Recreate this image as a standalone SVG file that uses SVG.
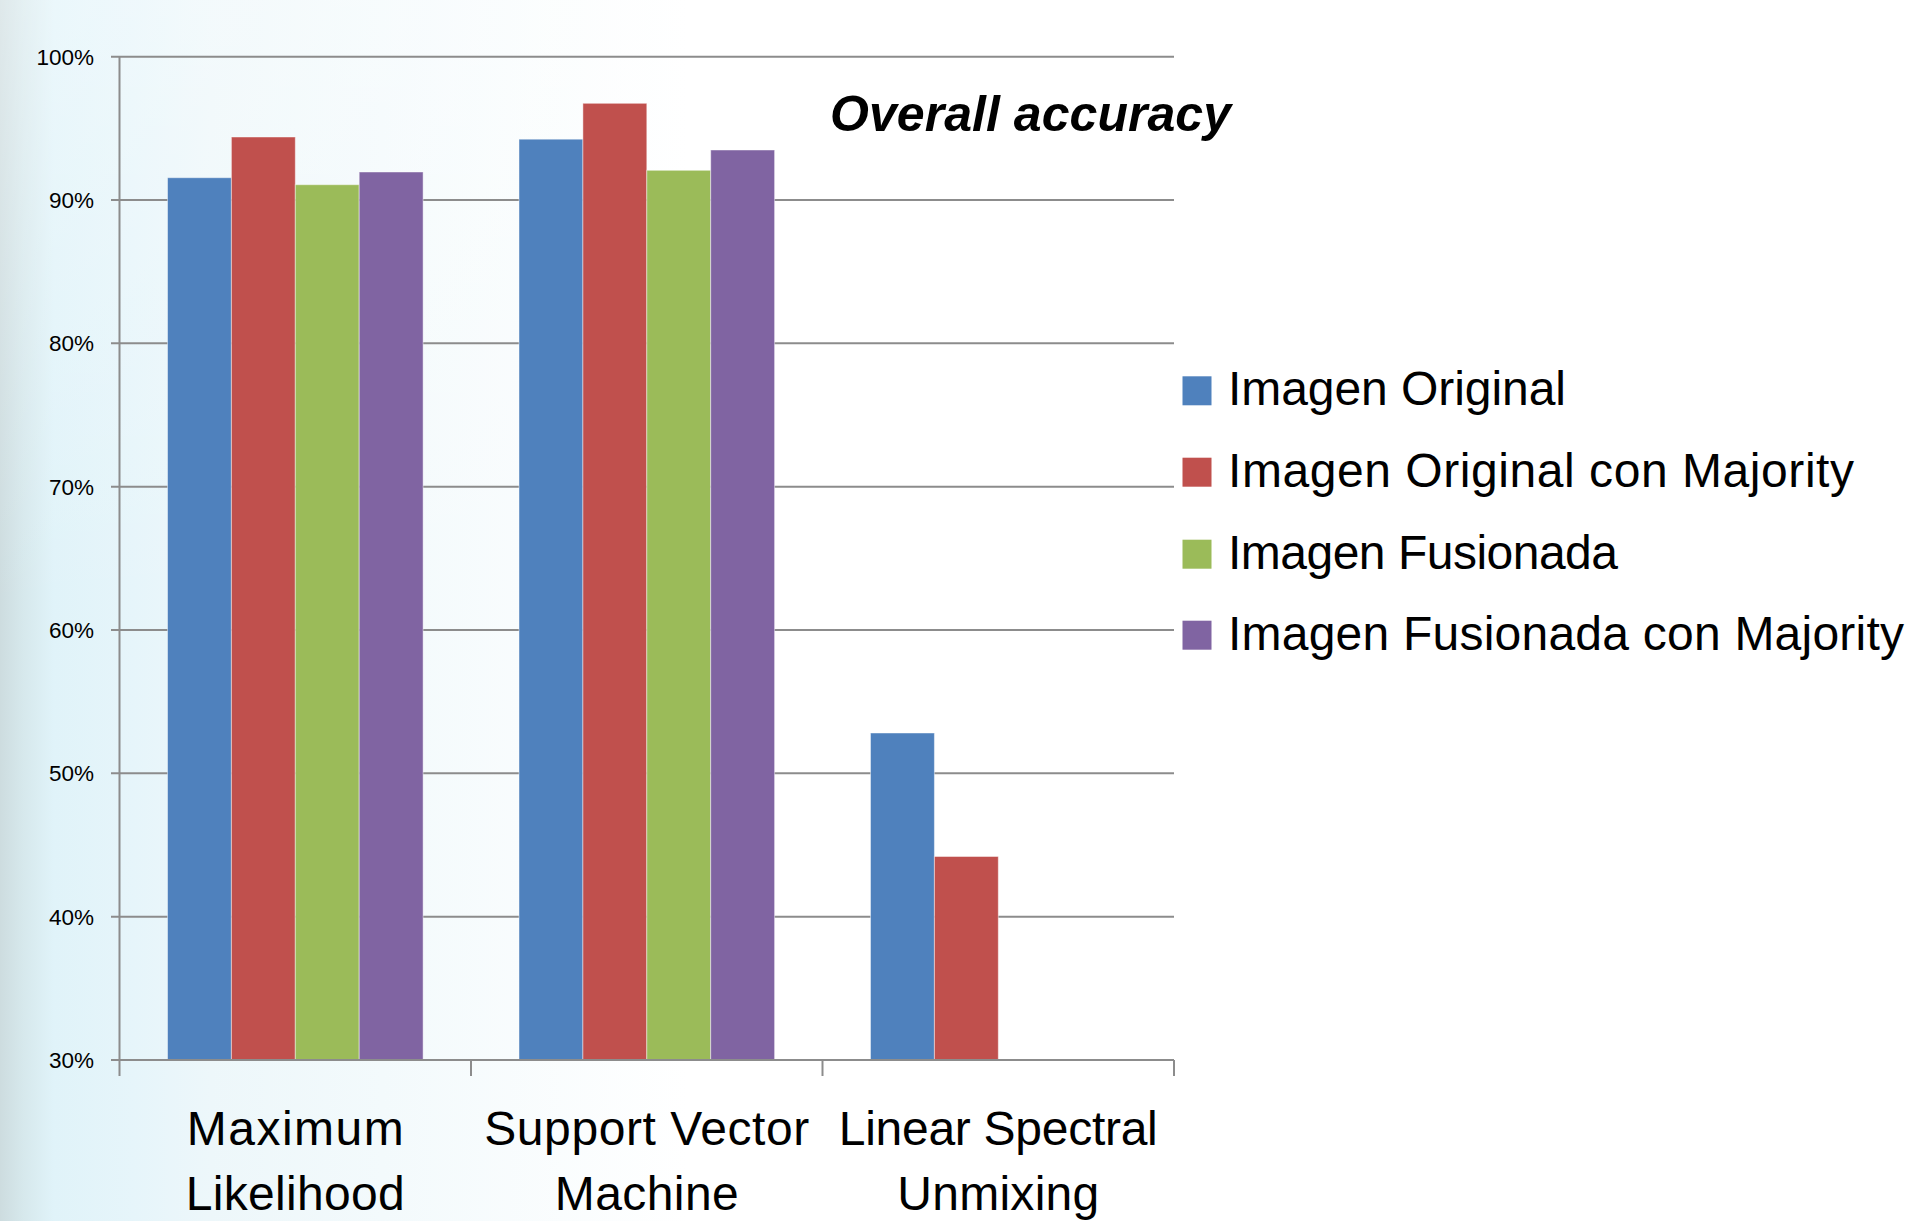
<svg xmlns="http://www.w3.org/2000/svg" width="1911" height="1221" viewBox="0 0 1911 1221">
<defs>
<linearGradient id="bg" x1="0" y1="0" x2="1911" y2="0" gradientUnits="userSpaceOnUse">
<stop offset="0" stop-color="#cddcdf"/>
<stop offset="0.012" stop-color="#d6e8ec"/>
<stop offset="0.028" stop-color="#e0f3f9"/>
<stop offset="0.07" stop-color="#e6f5fa"/>
<stop offset="0.11" stop-color="#edf7fa"/>
<stop offset="0.2" stop-color="#f3fafc"/>
<stop offset="0.36" stop-color="#ffffff"/>
<stop offset="1" stop-color="#ffffff"/>
</linearGradient>
<linearGradient id="fade" x1="0" y1="0" x2="0" y2="1221" gradientUnits="userSpaceOnUse">
<stop offset="0" stop-color="#ffffff" stop-opacity="0.35"/>
<stop offset="0.5" stop-color="#ffffff" stop-opacity="0"/>
<stop offset="1" stop-color="#ffffff" stop-opacity="0"/>
</linearGradient>
</defs>
<style>
.grid{stroke:#8c8c8c;stroke-width:2;fill:none}
.ylab{font-family:"Liberation Sans",Arial,sans-serif;font-size:22.5px;fill:#000;text-anchor:end}
.cat{font-family:"Liberation Sans",Arial,sans-serif;font-size:48px;fill:#000;text-anchor:middle}
.leg{font-family:"Liberation Sans",Arial,sans-serif;font-size:48px;fill:#000}
.title{font-family:"Liberation Sans",Arial,sans-serif;font-size:50px;font-weight:bold;font-style:italic;fill:#000}
.bar{stroke:#ffffff;stroke-opacity:0.45;stroke-width:1}
.s1{fill:#4f81bd}.s2{fill:#c0504d}.s3{fill:#9bbb59}.s4{fill:#8064a2}
</style>
<rect x="0" y="0" width="1911" height="1221" fill="url(#bg)"/>
<rect x="0" y="0" width="1911" height="1221" fill="url(#fade)"/>

<g id="gridlines">
<line class="grid" x1="111" y1="56.7" x2="1174" y2="56.7"/>
<line class="grid" x1="111" y1="200" x2="1174" y2="200"/>
<line class="grid" x1="111" y1="343.3" x2="1174" y2="343.3"/>
<line class="grid" x1="111" y1="486.7" x2="1174" y2="486.7"/>
<line class="grid" x1="111" y1="630" x2="1174" y2="630"/>
<line class="grid" x1="111" y1="773.3" x2="1174" y2="773.3"/>
<line class="grid" x1="111" y1="916.7" x2="1174" y2="916.7"/>
</g>

<g id="y-labels">
<text class="ylab" x="94" y="64.7">100%</text>
<text class="ylab" x="94" y="208">90%</text>
<text class="ylab" x="94" y="351.3">80%</text>
<text class="ylab" x="94" y="494.7">70%</text>
<text class="ylab" x="94" y="638">60%</text>
<text class="ylab" x="94" y="781.3">50%</text>
<text class="ylab" x="94" y="924.7">40%</text>
<text class="ylab" x="94" y="1068">30%</text>
</g>

<g id="title">
<text class="title" x="830" y="131" textLength="401">Overall accuracy</text>
</g>

<g id="maximum-likelihood">
<rect class="bar s1" x="167.5" y="177.7" width="63.9" height="882.3"/>
<rect class="bar s2" x="231.4" y="137" width="63.9" height="923"/>
<rect class="bar s3" x="295.3" y="184.7" width="63.9" height="875.3"/>
<rect class="bar s4" x="359.2" y="172" width="63.9" height="888"/>
<text class="cat" x="295.25" y="1145" textLength="217">Maximum</text>
<text class="cat" x="295.25" y="1210" textLength="219">Likelihood</text>
</g>

<g id="support-vector-machine">
<rect class="bar s1" x="519" y="139.2" width="63.9" height="920.8"/>
<rect class="bar s2" x="582.9" y="103.3" width="63.9" height="956.7"/>
<rect class="bar s3" x="646.8" y="170.3" width="63.9" height="889.7"/>
<rect class="bar s4" x="710.7" y="150" width="63.9" height="910"/>
<text class="cat" x="646.75" y="1145" textLength="325">Support Vector</text>
<text class="cat" x="646.75" y="1210" textLength="184">Machine</text>
</g>

<g id="linear-spectral-unmixing">
<rect class="bar s1" x="870.5" y="733" width="63.9" height="327"/>
<rect class="bar s2" x="934.4" y="856.5" width="63.9" height="203.5"/>
<text class="cat" x="998.25" y="1145" textLength="319">Linear Spectral</text>
<text class="cat" x="998.25" y="1210" textLength="202">Unmixing</text>
</g>

<g id="axes">
<line class="grid" x1="111" y1="1060" x2="1174" y2="1060"/>
<line class="grid" x1="119.5" y1="56" x2="119.5" y2="1076"/>
<line class="grid" x1="471" y1="1060" x2="471" y2="1076"/>
<line class="grid" x1="822.5" y1="1060" x2="822.5" y2="1076"/>
<line class="grid" x1="1174" y1="1060" x2="1174" y2="1076"/>
</g>

<g id="legend">
<rect class="s1" x="1182.5" y="376.3" width="29" height="29"/>
<text class="leg" x="1228" y="405.3" textLength="338">Imagen Original</text>
<rect class="s2" x="1182.5" y="457.7" width="29" height="29"/>
<text class="leg" x="1228" y="486.7" textLength="626">Imagen Original con Majority</text>
<rect class="s3" x="1182.5" y="539.7" width="29" height="29"/>
<text class="leg" x="1228" y="568.7" textLength="390">Imagen Fusionada</text>
<rect class="s4" x="1182.5" y="620.7" width="29" height="29"/>
<text class="leg" x="1228" y="649.7" textLength="676">Imagen Fusionada con Majority</text>
</g>
</svg>
